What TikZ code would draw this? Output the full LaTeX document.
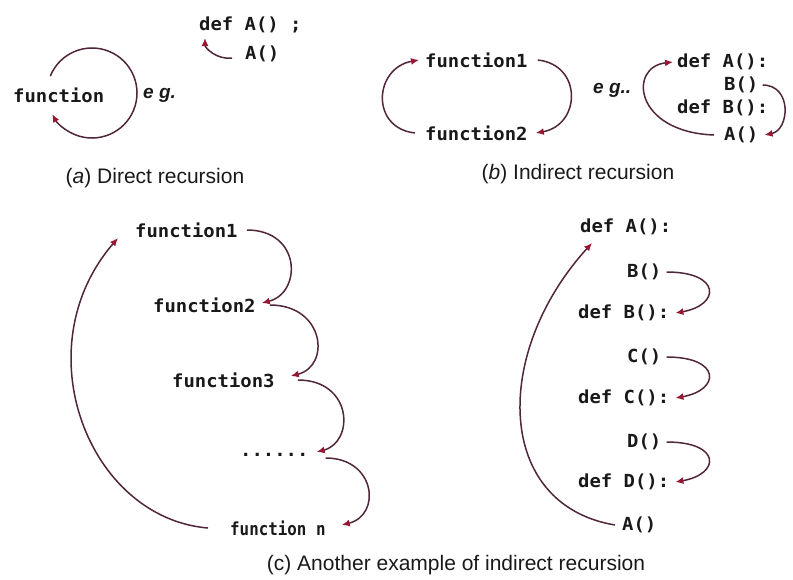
\documentclass[tikz,border=0pt]{standalone}
\usepackage{fontspec}
\setmainfont{Liberation Sans}
\newfontfamily\codefont[FakeStretch=1.05]{DejaVu Sans Mono}
\newfontfamily\codenarrow[FakeStretch=0.88]{DejaVu Sans Mono}
\usetikzlibrary{arrows.meta}
\definecolor{linec}{RGB}{80,38,58}
\definecolor{tipc}{RGB}{150,22,52}
\definecolor{inkc}{RGB}{25,25,25}
\tikzset{
  code/.style={font=\codefont\bfseries\fontsize{18}{20}\selectfont, inner sep=0pt, anchor=west, text=inkc},
  codeN/.style={font=\codenarrow\bfseries\fontsize{18}{20}\selectfont, inner sep=0pt, anchor=west, text=inkc},
  capt/.style={font=\fontsize{21}{24}\selectfont, inner sep=0pt, text=inkc},
  egtext/.style={font=\bfseries\itshape\fontsize{19}{22}\selectfont, inner sep=0pt, anchor=west, text=inkc},
  link/.style={draw=linec, line width=1.5pt, -{Latex[length=8pt,width=7pt,color=tipc]}},
}
\begin{document}
\begin{tikzpicture}[x=1pt,y=-1pt]
\useasboundingbox (0,0) rectangle (793,579);

% ---------- (a) ----------
\node[code] (fn) at (13,95) {function};
\coordinate (cc) at (92,93);
\draw[link] ([shift={(202:45)}]cc) arc[start angle=202, end angle=512, radius=45];
\node[egtext] (ega) at (143,95) {e g.};
\node[code] (adef) at (199,25) {def A() ;};
\node[code] (acall) at (245,54) {A()};
\draw[link] ([shift={(-13,4)}]acall.west) .. controls +(-15,2) and +(0,10) .. ([shift={(6,13)}]adef.west);
\node[capt] (capa) at (155,178) {(\textit{a}) Direct recursion};

% ---------- (b) ----------
\node[code] (bf1) at (425,60) {function1};
\node[code] (bf2) at (425,133) {function2};
\draw[link] ([xshift=-10]bf2.west) .. controls +(-45,-5) and +(-45,8) .. ([xshift=-6]bf1.west);
\draw[link] ([xshift=10]bf1.east) .. controls +(45,5) and +(45,-8) .. ([xshift=8]bf2.east);
\node[egtext] (egb) at (593,90) {e g..};
\node[code] (bdA) at (677,62) {def A():};
\node[code] (bcB) at (724,85) {B()};
\node[code] (bdB) at (677,108) {def B():};
\node[code] (bcA) at (724,135) {A()};
\draw[link] ([xshift=-10]bcA.west) .. controls +(-80,-3) and +(-45,5) .. ([xshift=-4]bdA.west);
\draw[link] ([xshift=4]bcB.east) .. controls +(30,0) and +(25,-5) .. ([xshift=6]bcA.east);
\node[capt] (capb) at (578,174) {(\textit{b}) Indirect recursion};

% ---------- (c) left ----------
\node[code] (g1) at (135,230) {function1};
\node[code] (g2) at (153,305) {function2};
\node[code] (g3) at (172,380) {function3};
\node[code] (gd) at (240,455) {......};
\node[codeN] (gn) at (230,528) {function n};
\draw[link] ([xshift=9]g1.east) .. controls +(55,0) and +(40,-10) .. ([shift={(6,-2)}]g2.east);
\draw[link] ([xshift=14]g2.east) .. controls +(55,0) and +(40,-10) .. ([shift={(16,-4)}]g3.east);
\draw[link] ([xshift=23]g3.east) .. controls +(55,0) and +(38,-10) .. ([shift={(8,-3)}]gd.east);
\draw[link] ([shift={(17,3)}]gd.east) .. controls +(50,0) and +(40,-10) .. ([shift={(16,-3)}]gn.east);
\draw[link] ([xshift=-22]gn.west) .. controls +(-120,-10) and +(-95,110) .. ([shift={(-17,8)}]g1.west);

% ---------- (c) right ----------
\node[code] (e1) at (580,227) {def A():};
\node[code] (e2) at (627,272) {B()};
\node[code] (e3) at (578,313) {def B():};
\node[code] (e4) at (627,357) {C()};
\node[code] (e5) at (578,398) {def C():};
\node[code] (e6) at (627,442) {D()};
\node[code] (e7) at (578,482) {def D():};
\node[code] (e8) at (622,525) {A()};
\draw[link] ([xshift=5]e2.east) .. controls +(55,0) and +(45,-8) .. ([xshift=6]e3.east);
\draw[link] ([xshift=5]e4.east) .. controls +(55,0) and +(45,-8) .. ([xshift=6]e5.east);
\draw[link] ([xshift=5]e6.east) .. controls +(55,0) and +(45,-8) .. ([xshift=6]e7.east);
\draw[link] ([xshift=-7]e8.west) .. controls +(-120,-20) and +(-100,110) .. ([shift={(12,16)}]e1.west);

\node[capt] (capc) at (456,565) {(c) Another example of indirect recursion};
\end{tikzpicture}
\end{document}
